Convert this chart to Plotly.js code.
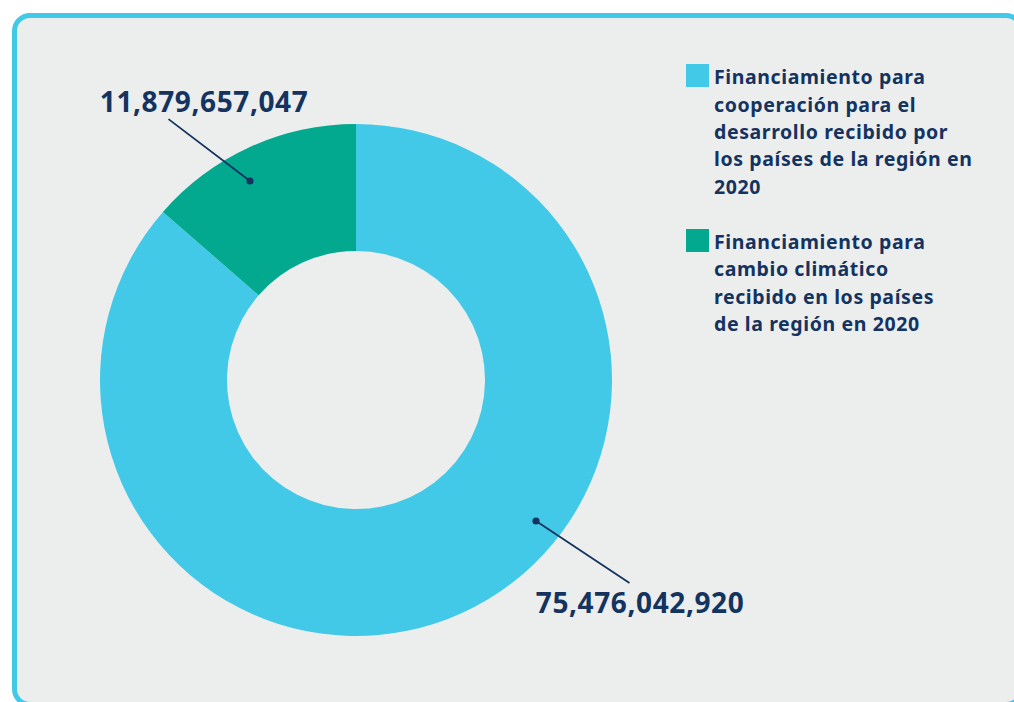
<!DOCTYPE html>
<html>
<head>
<meta charset="utf-8">
<script src="https://cdn.plot.ly/plotly-3.0.1.min.js"></script>
<style>
  html, body { margin: 0; padding: 0; width: 1014px; height: 702px; overflow: hidden; background: #ffffff; }
  #frame { position: absolute; left: 12px; top: 13px; width: 1012px; height: 694px; box-sizing: border-box;
           border: 5px solid #42C9E7; border-radius: 18px; background: #ECEEEE; }
  #chart { position: absolute; left: 0; top: 0; width: 1014px; height: 702px; }
  #chart .annotation-text { letter-spacing: 0.6px; }
</style>
</head>
<body>
<div id="frame"></div>
<div id="chart"></div>
<script>
// ---- data ----
const labels = [
  "Financiamiento para<br>cooperación para el<br>desarrollo recibido por<br>los países de la región en<br>2020",
  "Financiamiento para<br>cambio climático<br>recibido en los países<br>de la región en 2020"
];
const values = [75476042920, 11879657047];
const colors = ["#42C9E7", "#02A98F"];

// ---- layout helpers (pixel -> paper) ----
const W = 1014, H = 702;
const px = x => x / W;
const py = y => 1 - y / H;
const navy = "#14335F";
const FONT = "Noto Sans";

const trace = {
  type: "pie",
  labels: labels.map(l => l.replace(/<br>/g, " ")),
  values: values,
  hole: 0.504,
  sort: false,
  direction: "clockwise",
  rotation: 0,
  marker: { colors: colors, line: { width: 0 } },
  textinfo: "none",
  hoverinfo: "label+value",
  showlegend: false,
  domain: { x: [px(100), px(612)], y: [py(636), py(124)] }
};

const annotations = [];
const shapes = [];

// value labels with leader lines
const labelPos = [
  { tx: 640, ty: 602, dx: 536, dy: 521, lx: 631, ly: 584 },
  { tx: 204, ty: 101.5, dx: 250, dy: 181, lx: 167, ly: 118 }
];
values.forEach((v, i) => {
  const p = labelPos[i];
  annotations.push({
    xref: "paper", yref: "paper", x: px(p.tx), y: py(p.ty),
    xanchor: "center", yanchor: "middle", showarrow: false,
    text: v.toLocaleString("en-US"),
    font: { family: FONT, size: 28, color: navy, weight: 700 }
  });
  annotations.push({
    xref: "paper", yref: "paper", x: px(p.dx), y: py(p.dy),
    ax: p.lx - p.dx, ay: p.ly - p.dy,
    text: "", showarrow: true, arrowhead: 6, arrowside: "end",
    arrowsize: 1, arrowwidth: 1.8, arrowcolor: navy, standoff: 0
  });
});

// manual legend
const legendTop = [76.5, 241];
const squareTop = [64, 229];
labels.forEach((lab, i) => {
  shapes.push({
    type: "rect", xref: "paper", yref: "paper",
    x0: px(686), x1: px(709), y0: py(squareTop[i]), y1: py(squareTop[i] + 23),
    fillcolor: colors[i], line: { width: 0 }
  });
  lab.split("<br>").forEach((line, j) => {
    annotations.push({
      xref: "paper", yref: "paper", x: px(712), y: py(legendTop[i] + j * 27.5),
      xanchor: "left", yanchor: "middle", showarrow: false, align: "left",
      text: line,
      font: { family: FONT, size: 19.5, color: navy, weight: 700 }
    });
  });
});

const layout = {
  width: W, height: H,
  margin: { l: 0, r: 0, t: 0, b: 0 },
  paper_bgcolor: "rgba(0,0,0,0)",
  plot_bgcolor: "rgba(0,0,0,0)",
  showlegend: false,
  annotations: annotations,
  shapes: shapes,
  font: { family: FONT, color: navy }
};

Plotly.newPlot("chart", [trace], layout, { displayModeBar: false });
</script>
</body>
</html>
